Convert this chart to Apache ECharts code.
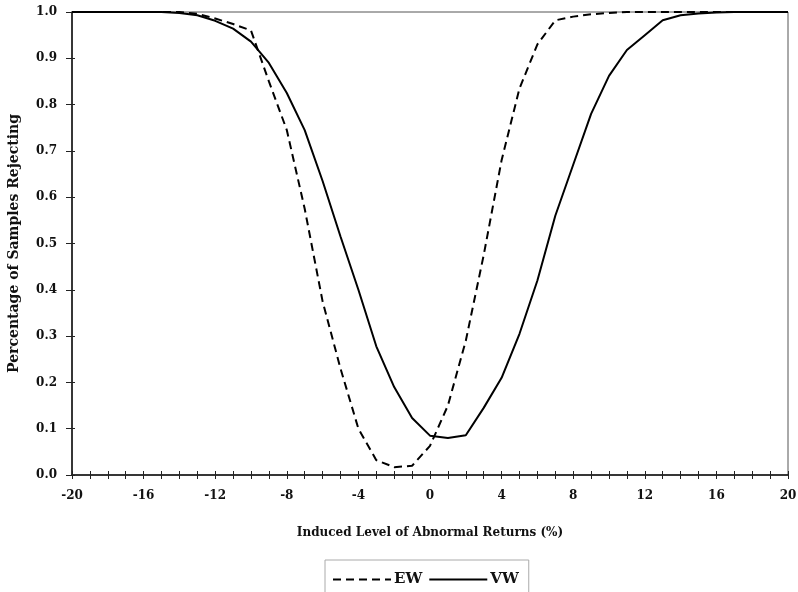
<!DOCTYPE html>
<html>
<head>
<meta charset="utf-8">
<script src="https://cdn.jsdelivr.net/npm/echarts@6/dist/echarts.min.js"></script>
<style>
html,body{margin:0;padding:0;background:#fff;}
#chart{width:798px;height:592px;}
</style>
</head>
<body>
<div id="chart"></div>
<script>
// induced abnormal return levels (%)
var levels = [-20,-19,-18,-17,-16,-15,-14,-13,-12,-11,-10,-9,-8,-7,-6,-5,-4,-3,-2,-1,0,
	1,2,3,4,5,6,7,8,9,10,11,12,13,14,15,16,17,18,19,20];
// percentage of samples rejecting, equal weighted
var ewValues = [1.0,1.0,1.0,1.0,1.0,1.0,1.0,0.996,0.986,0.974,0.96,0.85,0.745,0.575,0.375,0.23,0.10,0.032,0.017,0.02,0.063,
	0.15,0.29,0.475,0.68,0.835,0.93,0.982,0.99,0.995,0.998,1.0,1.0,1.0,1.0,1.0,1.0,1.0,1.0,1.0,1.0];
// value weighted
var vwValues = [1.0,1.0,1.0,1.0,1.0,1.0,0.998,0.993,0.981,0.964,0.936,0.89,0.825,0.745,0.635,0.515,0.40,0.278,0.19,0.123,0.085,
	0.08,0.086,0.145,0.21,0.305,0.42,0.56,0.67,0.78,0.862,0.918,0.95,0.982,0.993,0.997,0.999,1.0,1.0,1.0,1.0];
var seriesNames = ['EW','VW'];

function pairs(vals){
	var out = [];
	for (var i = 0; i < levels.length; i++) {
		out.push([levels[i], vals[i]]);
	}
	return out;
}

var serif = 'DejaVu Serif';
var myChart = echarts.init(document.getElementById('chart'));
var option = {
	animation: false,
	backgroundColor: '#fff',
	grid: {
		left: 72,
		right: 10,
		top: 12,
		bottom: 117,
		outerBoundsMode: 'none',
		containLabel: false,
		show: true,
		borderColor: '#555',
		borderWidth: 1
	},
	legend: {
		data: seriesNames,
		left: 325,
		top: 560,
		padding: [12, 10, 30, 7],
		itemGap: 6,
		itemWidth: 58,
		itemHeight: 14,
		borderColor: '#aaa',
		borderWidth: 1,
		itemStyle: { color: 'rgba(0,0,0,0)', borderWidth: 0 },
		textStyle: {
			fontFamily: serif,
			fontWeight: 'bold',
			fontSize: 15,
			color: '#111',
			padding: [0, 0, 0, -2]
		}
	},
	xAxis: [{
		type: 'value',
		min: -20,
		max: 20,
		interval: 1,
		name: 'Induced Level of Abnormal Returns (%)',
		nameLocation: 'middle',
		nameGap: 52,
		nameTextStyle: {
			fontFamily: serif,
			fontWeight: 'bold',
			fontSize: 12,
			color: '#111'
		},
		axisLine: { onZero: false, lineStyle: { color: '#111', width: 1.5 } },
		axisTick: { inside: false, length: 4, lineStyle: { color: '#222' } },
		axisLabel: {
			margin: 15,
			fontFamily: serif,
			fontWeight: 'bold',
			fontSize: 12,
			color: '#111',
			formatter: function (v) {
				return v % 4 === 0 ? String(v) : '';
			}
		},
		splitLine: { show: false }
	}, {
		type: 'value',
		min: -20,
		max: 20,
		interval: 1,
		position: 'bottom',
		axisLine: { show: false, onZero: false },
		axisTick: { inside: true, length: 4, lineStyle: { color: '#222' } },
		axisLabel: { show: false },
		splitLine: { show: false }
	}],
	yAxis: [{
		type: 'value',
		min: 0,
		max: 1,
		interval: 0.1,
		name: 'Percentage of Samples Rejecting',
		nameLocation: 'middle',
		nameGap: 51,
		nameTextStyle: {
			fontFamily: serif,
			fontWeight: 'bold',
			fontSize: 14,
			color: '#111'
		},
		axisLine: { onZero: false, lineStyle: { color: '#111', width: 1.5 } },
		axisTick: { length: 6, lineStyle: { color: '#222' } },
		axisLabel: {
			margin: 15,
			fontFamily: serif,
			fontWeight: 'bold',
			fontSize: 12,
			color: '#111',
			formatter: function (v) { return v.toFixed(1); }
		},
		splitLine: { show: false }
	}, {
		type: 'value',
		min: 0,
		max: 1,
		interval: 0.1,
		position: 'left',
		axisLine: { show: false, onZero: false },
		axisTick: { inside: true, length: 3, lineStyle: { color: '#222' } },
		axisLabel: { show: false },
		splitLine: { show: false }
	}],
	series: [{
		name: seriesNames[0],
		type: 'line',
		data: pairs(ewValues),
		symbol: 'none',
		lineStyle: { color: '#000', width: 2, type: [8, 5] },
		z: 3
	}, {
		name: seriesNames[1],
		type: 'line',
		data: pairs(vwValues),
		symbol: 'none',
		lineStyle: { color: '#000', width: 2 },
		z: 2
	}]
};
myChart.setOption(option);
</script>
</body>
</html>
